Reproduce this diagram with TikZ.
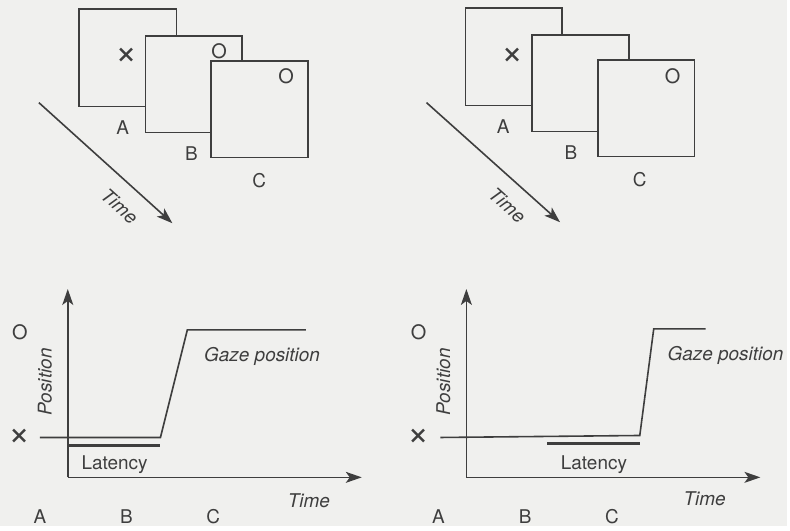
\documentclass[tikz,border=0pt]{standalone}
\usepackage{fontspec}
\setmainfont{TeX Gyre Heros}
\usetikzlibrary{arrows.meta}
\definecolor{ink}{RGB}{62,62,62}
\definecolor{paper}{RGB}{240,240,238}

\begin{document}
\begin{tikzpicture}[x=0.5pt,y=-0.5pt,
  every node/.style={text=ink,font=\fontsize{9.5}{11}\selectfont},
  screen/.style={draw=ink,line width=0.8pt,fill=paper},
  axis/.style={draw=ink,line width=0.8pt,-{Stealth[length=8pt,width=5.5pt,inset=2pt]}},
  trace/.style={draw=ink,line width=0.8pt},
  latbar/.style={draw=ink,line width=1.1pt},
  slant/.style={font=\fontsize{9.5}{11}\selectfont\itshape},
  cross/.style={font=\fontsize{19}{19}\selectfont,inner sep=0pt},
  ring/.style={font=\fontsize{10}{11}\selectfont}]
  \fill[paper] (0,0) rectangle (790,528);

  % stimulus sequence, left
  \draw[screen] (79,9) rectangle (177,107);
  \node[cross] (xA) at (127,57) {×};
  \node (labA) at (123,128) {A};
  \draw[screen] (146,36) rectangle (243,133);
  \node[ring] (oB) at (220,51) {O};
  \node (labB) at (192,154) {B};
  \draw[screen] (212,61) rectangle (309,158);
  \node[ring] (oC) at (287,77) {O};
  \node (labC) at (260,181) {C};
  \coordinate (t0) at (39,103);
  \coordinate (t1) at (173,224);
  \draw[axis] (t0) -- (t1);
  \node[slant,rotate=-42,inner sep=0pt] (timeL) at (120,207) {Time};

  % stimulus sequence, right
  \draw[screen] (467,8) rectangle (564,106);
  \node[cross] (xA2) at (514,57) {×};
  \node (labA2) at (505,127) {A};
  \draw[screen] (534,35) rectangle (631,132);
  \node (labB2) at (573,153) {B};
  \draw[screen] (600,60) rectangle (697,157);
  \node[ring] (oC2) at (675,77) {O};
  \node (labC2) at (642,180) {C};
  \coordinate (u0) at (428,103);
  \coordinate (u1) at (562,223);
  \draw[axis] (u0) -- (u1);
  \node[slant,rotate=-42,inner sep=0pt] (timeR) at (509,206) {Time};

  % gaze trace, left
  \coordinate (o1) at (68,479);
  \draw[axis] (o1) -- (68,290);
  \draw[axis] (o1) -- (363,479);
  \draw[trace] (40,439) -- (161,439) -- (188,331) -- (307,331);
  \draw[latbar] (68,447) -- (161,447);
  \node[ring] (pO) at (20,333) {O};
  \node[cross] (pX) at (20,439) {×};
  \node[slant,rotate=90] (posL) at (45,383) {Position};
  \node (latL) at (115,466) {Latency};
  \node[slant] (gazeL) at (263,358) {Gaze position};
  \node[slant] (axL) at (310,502) {Time};
  \node (a1) at (40,518) {A};
  \node (b1) at (127,518) {B};
  \node (c1) at (214,518) {C};

  % gaze trace, right
  \coordinate (o2) at (468,479);
  \draw[axis] (o2) -- (468,290);
  \draw[axis] (o2) -- (763,479);
  \draw[trace] (442,439) -- (642,437) -- (656,330) -- (708,330);
  \draw[latbar] (549,445) -- (642,445);
  \node[ring] (pO2) at (420,333) {O};
  \node[cross] (pX2) at (420,439) {×};
  \node[slant,rotate=90] (posR) at (445,383) {Position};
  \node (latR) at (596,466) {Latency};
  \node[slant] (gazeR) at (728,357) {Gaze position};
  \node[slant] (axR) at (707,500) {Time};
  \node (a2) at (440,518) {A};
  \node (b2) at (527,518) {B};
  \node (c2) at (614,518) {C};
\end{tikzpicture}
\end{document}
